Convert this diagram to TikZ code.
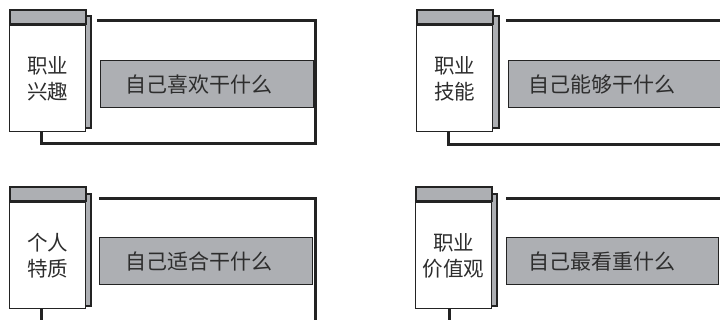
\documentclass[tikz,border=0pt]{standalone}
\usepackage{fontspec}
\newfontfamily\cjk{Noto Sans CJK SC}
\definecolor{boxgray}{RGB}{173,175,179}
\definecolor{ink}{RGB}{35,35,35}
\definecolor{txt}{RGB}{45,45,45}
\begin{document}
\begin{tikzpicture}[x=1pt,y=-1pt,
  card/.style={draw=ink, line width=1.2pt, fill=white, minimum width=76pt, minimum height=106pt,
    anchor=north west, inner sep=0pt, align=center, font=\cjk\fontsize{20.5}{26}\selectfont, text=txt},
  band/.style={draw=ink, line width=2pt, fill=boxgray, minimum width=76pt, minimum height=14pt,
    anchor=south, inner sep=0pt},
  shade/.style={draw=ink, line width=2pt, fill=boxgray, minimum width=60pt, minimum height=112pt,
    anchor=north east, inner sep=0pt},
  infobox/.style={draw=ink, line width=1.2pt, fill=boxgray, minimum height=47pt, anchor=north west,
    inner ysep=0pt, align=left, font=\cjk\fontsize{21}{24}\selectfont, text=txt},
  frame/.style={draw=ink, line width=3pt}
]
\useasboundingbox (0,0) rectangle (720,320);
\clip (0,0) rectangle (720,320);

% ---------- panel 1: top left ----------
\node[shade] (sh1) at (92,15) {};
\node[card] (card1) at (9,25) {职业\\兴趣};
\node[band] (band1) at (card1.north) {};
\node[infobox, inner xsep=25pt, text width=163pt] (box1) at (100,60) {自己喜欢干什么};
\coordinate (f1a) at (97,21);
\coordinate (f1b) at (315,21);
\coordinate (f1c) at (315,144);
\coordinate (f1d) at (41,144);
\draw[frame] (f1a) -- (f1b) -- (f1c) -- (f1d) -- (f1d |- card1.south);

% ---------- panel 2: top right ----------
\node[shade] (sh2) at (500,15) {};
\node[card] (card2) at (416,25) {职业\\技能};
\node[band] (band2) at (card2.north) {};
\node[infobox, inner xsep=20pt, text width=182pt] (box2) at (508,60) {自己能够干什么};
\coordinate (f2a) at (506,21);
\coordinate (f2b) at (735,21);
\coordinate (f2c) at (448,145);
\coordinate (f2d) at (735,145);
\draw[frame] (f2a) -- (f2b);
\draw[frame] (f2c |- card2.south) -- (f2c) -- (f2d);

% ---------- panel 3: bottom left ----------
\node[shade] (sh3) at (92,193) {};
\node[card] (card3) at (9,202) {个人\\特质};
\node[band] (band3) at (card3.north) {};
\node[infobox, inner xsep=26pt, text width=161pt] (box3) at (99,237) {自己适合干什么};
\coordinate (f3a) at (99,199);
\coordinate (f3b) at (315,199);
\coordinate (f3c) at (315,330);
\coordinate (f3d) at (41,330);
\draw[frame] (f3a) -- (f3b) -- (f3c);
\draw[frame] (f3d |- card3.south) -- (f3d);

% ---------- panel 4: bottom right ----------
\node[shade] (sh4) at (498,193) {};
\node[card] (card4) at (415,202) {职业\\价值观};
\node[band] (band4) at (card4.north) {};
\node[infobox, inner xsep=22pt, text width=168pt] (box4) at (506,237) {自己最看重什么};
\coordinate (f4a) at (506,199);
\coordinate (f4b) at (735,199);
\coordinate (f4d) at (449,330);
\draw[frame] (f4a) -- (f4b);
\draw[frame] (f4d |- card4.south) -- (f4d);
\end{tikzpicture}
\end{document}
